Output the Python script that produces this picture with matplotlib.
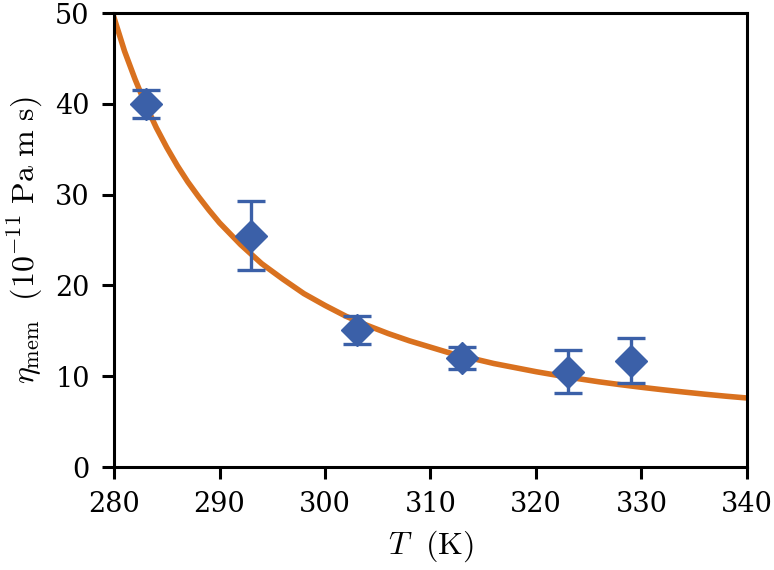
import matplotlib
matplotlib.use("Agg")
import matplotlib.pyplot as plt

plt.rcParams['font.family'] = ['DejaVu Serif']
plt.rcParams['mathtext.fontset'] = 'cm'

# measured data
T_data = [283, 293, 303, 313, 323, 329]
eta_data = [40.0, 25.5, 15.1, 12.0, 10.5, 11.7]
eta_err = [1.5, 3.8, 1.5, 1.2, 2.4, 2.5]

# fitted curve
T_fit = [280, 281, 282, 283, 284, 285, 286, 287, 288, 289, 290, 292, 294, 296, 298,
         300, 302, 304, 306, 308, 310, 312, 314, 316, 318, 320, 322, 324, 326, 328,
         330, 332, 334, 336, 338, 340]
eta_fit = [49.5, 45.8, 42.7, 39.9, 37.4, 35.2, 33.2, 31.4, 29.8, 28.3, 26.9, 24.5,
           22.4, 20.7, 19.1, 17.8, 16.6, 15.6, 14.7, 13.9, 13.2, 12.5, 11.95, 11.4,
           10.95, 10.5, 10.1, 9.73, 9.38, 9.07, 8.78, 8.51, 8.26, 8.02, 7.80, 7.60]

x_ticks = [280, 290, 300, 310, 320, 330, 340]
y_ticks = [0, 10, 20, 30, 40, 50]

fig = plt.figure(figsize=(7.74, 5.70), dpi=100)
ax = fig.add_axes([0.1473, 0.1807, 0.8178, 0.7963])

ax.plot(T_fit, eta_fit, color='#D9711F', lw=4, zorder=1)
ax.errorbar(T_data, eta_data, yerr=eta_err, fmt='D', color='#3B60A8',
            ms=16, elinewidth=2.4, capsize=10, capthick=2.4, zorder=2)

ax.set_xlim(280, 340)
ax.set_ylim(0, 50)
ax.set_xticks(x_ticks)
ax.set_yticks(y_ticks)
ax.tick_params(labelsize=19.5, width=2.2, length=8.5, pad=9)
for s in ax.spines.values():
    s.set_linewidth(2.2)

ax.set_xlabel(r'$T\ \ (\mathrm{K})$', fontsize=23, labelpad=7)
ax.set_ylabel(r'$\eta_{\mathrm{mem}}\ \ (10^{-11}\ \mathrm{Pa\ m\ s})$', fontsize=23, labelpad=7)

fig.savefig('out.png', dpi=100)
